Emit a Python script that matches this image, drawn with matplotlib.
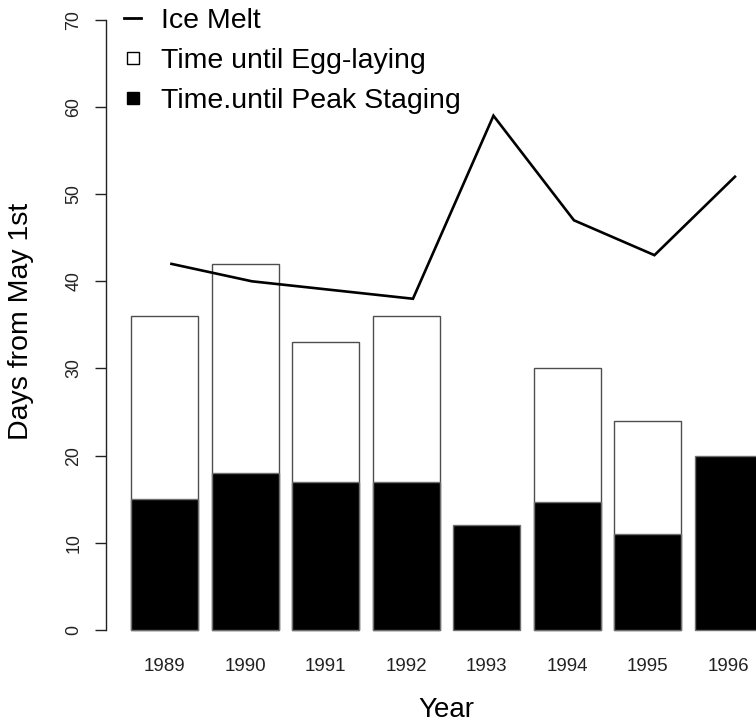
import numpy as np
import matplotlib
matplotlib.use("Agg")
import matplotlib.pyplot as plt
from matplotlib.lines import Line2D

plt.rcParams['font.family'] = ['Liberation Sans', 'DejaVu Sans']

years = ["1989", "1990", "1991", "1992", "1993", "1994", "1995", "1996"]
egg_laying = [36, 42, 33, 36, np.nan, 30, 24, np.nan]
peak_staging = [15, 18, 17, 17, 12, 14.7, 11, 20]
ice_melt = [42, 40, 39, 38, 59, 47, 43, 52]
y_ticks = [0, 10, 20, 30, 40, 50, 60, 70]

W, H = 756, 723
fig = plt.figure(figsize=(W / 100, H / 100), dpi=100)
ax = fig.add_axes([106 / W, (H - 654.4) / H, 681 / W, 659 / H])

# R barplot geometry: width 1, space 0.2
centers = 0.7 + 1.2 * np.arange(len(years))
ax.bar(centers, egg_laying, width=1.0, color="white", edgecolor="#4d4d4d", linewidth=1.0, zorder=2)
ax.bar(centers, peak_staging, width=1.0, color="black", edgecolor="#6e6e6e", linewidth=1.0, zorder=3)
ax.plot(centers + 0.1, ice_melt, color="black", linewidth=1.9, zorder=4, solid_joinstyle="miter")

ax.set_xlim(-0.176, 9.976)
ax.set_ylim(-2.8, 72.8)

for s in ["top", "right", "bottom"]:
    ax.spines[s].set_visible(False)
ax.spines["left"].set_bounds(0, 70)
ax.spines["left"].set_linewidth(1.0)
ax.spines["left"].set_color("#222222")

ax.set_yticks(y_ticks)
ax.set_yticklabels([str(t) for t in y_ticks], rotation=90, va="center", fontsize=12.8, color="#333333")
ax.tick_params(axis="y", direction="out", length=8, width=1.0, pad=9, colors="#222222")

ax.set_xticks(centers)
ax.set_xticklabels(years, fontsize=13.5, color="#222222")
ax.tick_params(axis="x", length=0, pad=2.5)

fig.text(446 / W, (H - 710) / H, "Year", ha="center", va="center", fontsize=20)
fig.text(21 / W, (H - 321) / H, "Days from May 1st", ha="center", va="center", rotation=90, fontsize=20.5)

handles = [
    Line2D([0], [0], color="black", lw=2.0),
    Line2D([0], [0], marker="s", linestyle="none", markersize=9, markerfacecolor="white",
           markeredgecolor="black", markeredgewidth=1.0),
    Line2D([0], [0], marker="s", linestyle="none", markersize=9, markerfacecolor="black",
           markeredgecolor="black"),
]
labels = ["Ice Melt", "Time until Egg-laying", "Time.until Peak Staging"]
leg = fig.legend(handles, labels, loc="upper left", bbox_to_anchor=(110 / W, 1.0 + 6 / H),
                 frameon=False, fontsize=20.5, handlelength=0.6, handletextpad=0.7,
                 labelspacing=0.48, borderpad=0.0)

fig.savefig("out.png", dpi=100)
